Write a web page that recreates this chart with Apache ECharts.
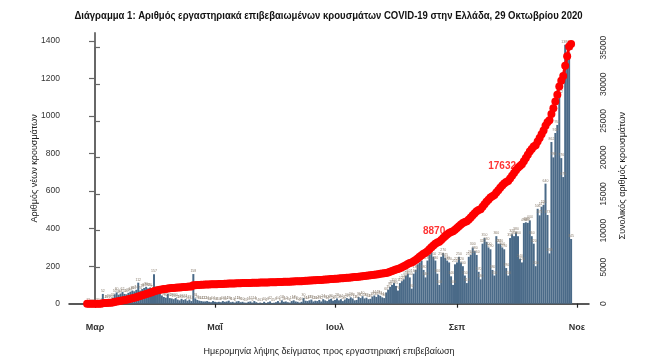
<!DOCTYPE html>
<html><head><meta charset="utf-8">
<script src="https://cdn.jsdelivr.net/npm/echarts@6/dist/echarts.min.js"></script>
<style>html,body{margin:0;padding:0;background:#fff}#c{width:657px;height:358px}</style>
</head><body><div id="c"></div>
<script>
const titleText = 'Διάγραμμα 1: Αριθμός εργαστηριακά επιβεβαιωμένων κρουσμάτων COVID-19 στην Ελλάδα, 29 Οκτωβρίου 2020';
const xTitle = 'Ημερομηνία λήψης δείγματος προς εργαστηριακή επιβεβαίωση';
const yLeftTitle = 'Αριθμός νέων κρουσμάτων';
const yRightTitle = 'Συνολικός αριθμός κρουσμάτων';

// first value = 26 Feb 2020; days are counted from 1 March 2020 (= day 0)
const firstDay = -4;
const dailyCases = [
  1, 2, 0, 0,
  0, 2, 1, 4, 52, 18, 22,
  24, 20, 32, 50, 60, 48, 54,
  62, 52, 50, 58, 64, 70, 66,
  74, 112, 70, 78, 84, 90, 82,
  86, 72, 157, 70, 66, 60, 44,
  36, 32, 52, 30, 28, 24, 30,
  22, 18, 26, 20, 24, 16, 22,
  14, 158, 28, 20, 16, 14, 12,
  12, 14, 10, 8, 14, 10, 8,
  10, 8, 14, 10, 12, 16, 8,
  10, 6, 12, 14, 8, 10, 6,
  5, 10, 12, 6, 14, 8, 4,
  6, 3, 10, 4, 8, 12, 4,
  5, 8, 14, 6, 18, 10, 12,
  8, 6, 14, 18, 12, 10, 6,
  10, 30, 16, 14, 18, 22, 12,
  16, 14, 20, 12, 24, 18, 14,
  22, 26, 16, 20, 28, 18, 24,
  14, 22, 30, 26, 34, 28, 18,
  20, 36, 30, 40, 28, 32, 24,
  26, 38, 44, 36, 48, 42, 34,
  30, 60, 75, 90, 100, 110, 95,
  70, 110, 120, 130, 150, 160, 140,
  80, 160, 180, 210, 220, 230, 180,
  140, 230, 260, 270, 250, 230, 160,
  100, 250, 270, 245, 230, 220, 146,
  100, 210, 220, 250, 220, 200, 150,
  110, 250, 260, 300, 280, 260, 170,
  130, 320, 350, 330, 300, 290, 180,
  150, 360, 320, 320, 300, 290, 190,
  150, 350, 370, 360, 380, 360, 240,
  220, 430, 434, 431, 444, 360, 320,
  200, 506, 471, 517, 526, 640, 473,
  268, 862, 780, 910, 953, 1112, 776,
  675, 1380, 1300, 1340, 345
];

const tickDays = [0, 61, 122, 184, 245];
const tickNames = ['Μαρ', 'Μαΐ', 'Ιουλ', 'Σεπ', 'Νοε'];
const leftTicks = [0, 200, 400, 600, 800, 1000, 1200, 1400];
const rightTicks = [0, 5000, 10000, 15000, 20000, 25000, 30000, 35000];
const markDays = [177, 213, 242];
const markTexts = ['8870', '17632', '35510'];

const barData = dailyCases.map((v, i) => [i + firstDay, v]);
let running = 0;
const cumData = dailyCases.map((v, i) => { running += v; return [i + firstDay, running]; });
const markData = markDays.map((d, k) => ({ value: cumData[d - firstDay], name: markTexts[k] }));

const SANS = "'Liberation Sans', Arial, sans-serif";
const xMin = -13.2, xMax = 251.1;
const plain = v => String(v);

const chart = echarts.init(document.getElementById('c'), null, { renderer: 'canvas' });
chart.setOption({
  animation: false,
  backgroundColor: '#ffffff',
  graphic: [{
    type: 'text', left: 'center', top: 10, scaleX: 0.83,
    style: { text: titleText, font: "bold 11.5px 'Liberation Sans', Arial, sans-serif", fill: '#111' }
  }],
  grid: [
    { left: 69, right: 68, top: 33, bottom: 54.3, outerBoundsMode: 'none', containLabel: false },
    { left: 69, right: 68, top: 47.7, bottom: 54.3, outerBoundsMode: 'none', containLabel: false }
  ],
  xAxis: [
    {
      type: 'value', gridIndex: 0, min: xMin, max: xMax, offset: 10,
      axisLine: { lineStyle: { color: '#222', width: 1.5 } },
      axisTick: { length: 4, lineStyle: { color: '#222', width: 1.2 }, customValues: tickDays },
      axisLabel: {
        customValues: tickDays, margin: 9,
        formatter: v => tickNames[tickDays.indexOf(v)] || '',
        fontFamily: SANS, fontSize: 9, fontWeight: 'bold', color: '#333'
      },
      splitLine: { show: false },
      name: xTitle, nameLocation: 'middle', nameGap: 33, nameMoveOverlap: false,
      nameTextStyle: { fontFamily: SANS, fontSize: 9, color: '#222' }
    },
    { type: 'value', gridIndex: 1, min: xMin, max: xMax, show: false }
  ],
  yAxis: [
    {
      type: 'value', gridIndex: 0, min: 0, max: 1443, position: 'left',
      axisLine: { show: true, lineStyle: { color: '#666', width: 1.8 } },
      axisTick: { show: true, length: 6, lineStyle: { color: '#666', width: 1.2 }, customValues: leftTicks },
      axisLabel: { customValues: leftTicks, formatter: plain, margin: 9, fontFamily: SANS, fontSize: 8.5, color: '#333' },
      splitLine: { show: false },
      name: yLeftTitle, nameLocation: 'middle', nameGap: 30, nameRotate: 90, nameMoveOverlap: false,
      nameTextStyle: { fontFamily: SANS, fontSize: 9, color: '#222' }
    },
    {
      type: 'value', gridIndex: 1, min: 0, max: 35000, interval: 5000, position: 'right',
      axisLine: { show: true, lineStyle: { color: '#666', width: 1.8 } },
      axisTick: { show: true, length: 5, lineStyle: { color: '#666', width: 1.2 }, customValues: rightTicks },
      axisLabel: { customValues: rightTicks, formatter: plain, rotate: 90, margin: 10, fontFamily: SANS, fontSize: 8.5, color: '#333' },
      splitLine: { show: false },
      name: yRightTitle, nameLocation: 'middle', nameGap: 29, nameRotate: 90, nameMoveOverlap: false,
      nameTextStyle: { fontFamily: SANS, fontSize: 9, color: '#222' }
    }
  ],
  series: [
    {
      type: 'bar', xAxisIndex: 0, yAxisIndex: 0, data: barData, barWidth: 2, z: 2,
      itemStyle: { color: '#4a6a88' },
      label: { show: true, position: 'top', distance: 1, fontSize: 3.5, color: '#8a7d6e', fontFamily: SANS }
    },
    {
      type: 'scatter', xAxisIndex: 1, yAxisIndex: 1, data: markData, symbolSize: 0, z: 3,
      label: {
        show: true, formatter: p => p.name, position: [2, -2], align: 'right', verticalAlign: 'bottom',
        fontFamily: SANS, fontSize: 10, fontWeight: 'bold', color: '#ff0000'
      }
    },
    {
      type: 'line', xAxisIndex: 1, yAxisIndex: 1, data: cumData, z: 4, clip: false,
      symbol: 'circle', symbolSize: 8, showAllSymbol: true,
      itemStyle: { color: '#ff0000' }, lineStyle: { color: '#ff0000', width: 3 }
    }
  ]
});
</script></body></html>
